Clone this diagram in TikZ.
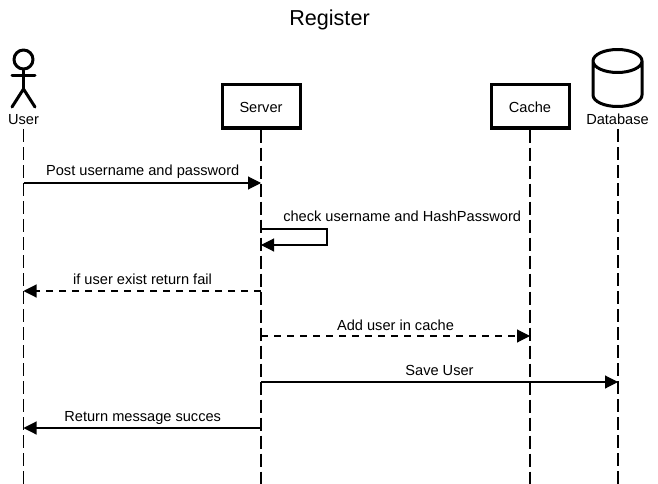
\documentclass[tikz,border=0pt]{standalone}
\usepackage{fontspec}
\setmainfont{Liberation Sans}
\usetikzlibrary{arrows.meta}
\begin{document}
\begin{tikzpicture}[x=1pt,y=-1pt,font=\fontsize{14.6}{17}\selectfont]
        \tikzstyle{party}=[rectangle,draw=black,line width=3pt,minimum width=78pt,minimum height=43pt,inner sep=0pt,text height=12.5pt,text depth=0pt]
        \tikzstyle{caption}=[inner sep=0pt,text height=10.5pt,text depth=0pt]
        \tikzstyle{figure}=[draw=black,line width=3pt,line join=round,line cap=round]
        \tikzstyle{lifeline}=[draw=black,line width=1.1pt,dash pattern=on 13pt off 5pt]
        \tikzstyle{edge}=[draw=black,line width=1.1pt,-{Triangle[length=13pt,width=13pt]}]
        \tikzstyle{back}=[edge,dash pattern=on 7pt off 6pt]
        \tikzstyle{msg}=[inner sep=0pt,text height=10.5pt,text depth=3pt]
       \useasboundingbox (0,0) rectangle (658,484);

         \node [font=\fontsize{21.6}{26}\selectfont,inner sep=0pt] (title) at (329.5,19.5) {Register};

         \node [party] (server) at (261,106.5) {Server};
         \node [party] (cache) at (530,106.5) {Cache};
         \node [caption] (user) at (23.5,119.2) {User};
         \node [caption] (database) at (617.5,119.2) {Database};

         % actor
         \node [figure,circle,minimum size=19pt,inner sep=0pt] (head) at (23.5,59.5) {};
         \coordinate (hip) at (23.5,89);
         \coordinate (handl) at (12,76);
         \coordinate (handr) at (35,76);
         \coordinate (footl) at (12,107);
         \coordinate (footr) at (35,107);
         \path [figure] (head) -- (hip);
         \path [figure] (handl) -- (handr);
         \path [figure] (footl) -- (hip) -- (footr);

         % database
         \path [figure] (593,61) arc (180:360:24.5 and 11.5) arc (0:180:24.5 and 11.5) -- (593,95)
            arc (180:0:24.5 and 11.5) -- (642,61);

         \coordinate (user_end) at (23.5,484);
         \coordinate (server_end) at (261,484);
         \coordinate (cache_end) at (530,484);
         \coordinate (database_end) at (618,484);
         \coordinate (user_top) at (23.5,129);
         \coordinate (database_top) at (618,129);
         \path [lifeline] (user_top) -- (user_end);
         \path [lifeline] (server.south) -- (server_end);
         \path [lifeline] (cache.south) -- (cache_end);
         \path [lifeline] (database_top) -- (database_end);

         \coordinate (u1) at (23.5,183);
         \coordinate (s1) at (261,183);
         \coordinate (s2) at (261,229);
         \coordinate (l1) at (327,229);
         \coordinate (l2) at (327,245);
         \coordinate (s3) at (261,245);
         \coordinate (s4) at (261,291);
         \coordinate (u4) at (23.5,291);
         \coordinate (s5) at (261,336);
         \coordinate (c5) at (530,336);
         \coordinate (s6) at (261,382);
         \coordinate (d6) at (618,382);
         \coordinate (s7) at (261,428);
         \coordinate (u7) at (23.5,428);

         \path [edge] (u1) -- (s1);
         \path [edge] (s2) -- (l1) -- (l2) -- (s3);
         \path [back] (s4) -- (u4);
         \path [back] (s5) -- (c5);
         \path [edge] (s6) -- (d6);
         \path [edge] (s7) -- (u7);

         \node [msg] (post) at (142.7,172.2) {Post username and password};
         \node [msg] (check) at (402.2,218.2) {check username and HashPassword};
         \node [msg] (fail) at (142.5,280.8) {if user exist return fail};
         \node [msg] (add) at (395.5,326.8) {Add user in cache};
         \node [msg] (save) at (439.5,372.2) {Save User};
         \node [msg] (succes) at (142.7,417.7) {Return message succes};
\end{tikzpicture}
\end{document}
